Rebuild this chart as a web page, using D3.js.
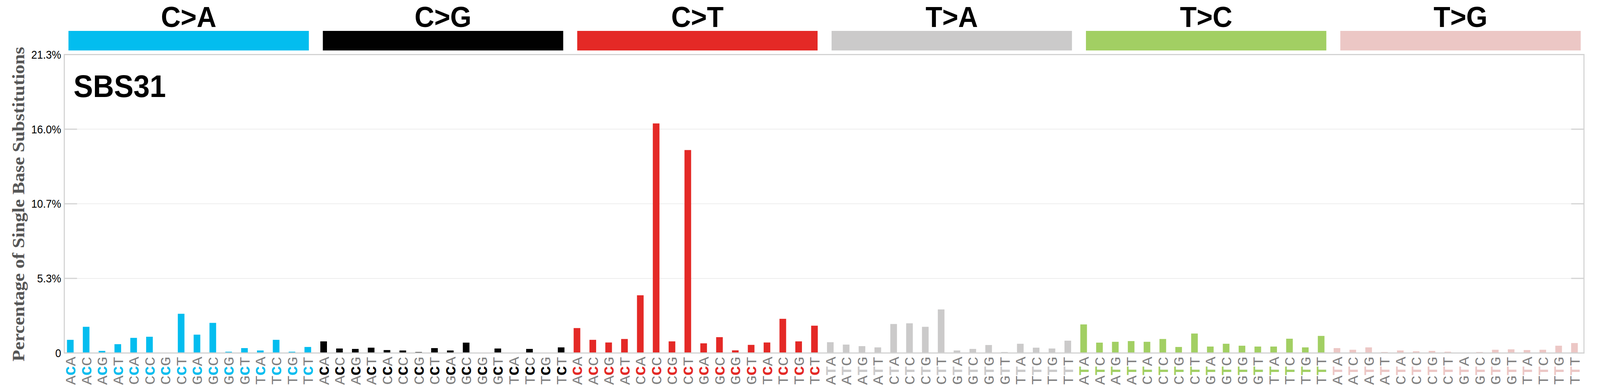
<!DOCTYPE html>
<html>
<head>
<meta charset="utf-8">
<script src="https://cdn.jsdelivr.net/npm/d3@7"></script>
<style>
  html, body { margin: 0; padding: 0; background: #fff; overflow: hidden; }
  #chart svg { display: block; }
</style>
</head>
<body>
<div id="chart"></div>
<script>
// mutation classes and their colours
const mutationTypes = ['C>A', 'C>G', 'C>T', 'T>A', 'T>C', 'T>G']
const typeColors = ['#03BDEF', '#010101', '#E42926', '#CBCACA', '#A2CF63', '#ECC7C5']

// trinucleotide contexts (5' base, mutated base, 3' base)
const contextsC = ['ACA', 'ACC', 'ACG', 'ACT', 'CCA', 'CCC', 'CCG', 'CCT',
  'GCA', 'GCC', 'GCG', 'GCT', 'TCA', 'TCC', 'TCG', 'TCT']
const contextsT = ['ATA', 'ATC', 'ATG', 'ATT', 'CTA', 'CTC', 'CTG', 'CTT',
  'GTA', 'GTC', 'GTG', 'GTT', 'TTA', 'TTC', 'TTG', 'TTT']

// percentage of single base substitutions
const caValues = [0.94, 1.87, 0.15, 0.63, 1.08, 1.16, 0.02, 2.80, 1.31, 2.15, 0.09, 0.35, 0.18, 0.94, 0.09, 0.43]
const cgValues = [0.83, 0.32, 0.29, 0.38, 0.21, 0.18, 0.07, 0.35, 0.18, 0.74, 0.04, 0.32, 0.04, 0.29, 0.04, 0.40]
const ctValues = [1.78, 0.94, 0.75, 1.00, 4.12, 16.39, 0.83, 14.49, 0.69, 1.13, 0.19, 0.58, 0.75, 2.44, 0.83, 1.95]
const taValues = [0.77, 0.60, 0.49, 0.40, 2.07, 2.12, 1.87, 3.11, 0.18, 0.29, 0.57, 0.07, 0.66, 0.38, 0.32, 0.88]
const tcValues = [2.04, 0.74, 0.80, 0.85, 0.80, 1.00, 0.43, 1.39, 0.46, 0.66, 0.52, 0.46, 0.46, 1.02, 0.40, 1.22]
const tgValues = [0.35, 0.23, 0.40, 0.07, 0.18, 0.12, 0.15, 0.09, 0.02, 0.07, 0.23, 0.26, 0.21, 0.23, 0.52, 0.71]

const signatureName = 'SBS31'
const yTitle = 'Percentage of Single Base Substitutions'

let seriesValues = [caValues, cgValues, ctValues, taValues, tcValues, tgValues]

// flatten to 96 rows
let rows = []
seriesValues.forEach((vals, g) => {
  let ctx = g < 3 ? contextsC : contextsT
  vals.forEach((v, i) => {
    rows.push({ type: mutationTypes[g], group: g, context: ctx[i], value: v })
  })
})

let width = 4393
let height = 992

let plot = { left: 176.5, right: 4349, top: 139.5, bottom: 902.5 }

// drawn in a 4393x992 coordinate box, stretched to whatever the window is
let svg = d3
  .select('#chart')
  .append('svg')
  .attr('viewBox', `0 0 ${width} ${height}`)
  .attr('preserveAspectRatio', 'none')
  .style('width', '100vw')
  .style('height', '100vh')

let x = d3
  .scaleLinear()
  .domain([-0.38, 95.6])
  .range([plot.left, plot.right])

let step = x(1) - x(0)
let barWidth = step * 0.42

let yMax = d3.max(rows, d => d.value) * 1.3

let y = d3
  .scaleLinear()
  .domain([0, yMax])
  .range([plot.bottom, plot.top])

let yTicks = [0, 0.25, 0.5, 0.75, 1].map(f => f * yMax)

// gridlines
svg
  .selectAll('.grid')
  .data(yTicks.slice(1, 4))
  .enter()
  .append('line')
  .attr('class', 'grid')
  .attr('x1', plot.left)
  .attr('x2', plot.right)
  .attr('y1', d => y(d))
  .attr('y2', d => y(d))
  .attr('stroke', '#e8e8e8')
  .attr('stroke-width', 1.5)

// bars
svg
  .selectAll('.bar')
  .data(rows)
  .enter()
  .append('rect')
  .attr('class', 'bar')
  .attr('x', (d, i) => x(i) - barWidth / 2)
  .attr('width', barWidth)
  .attr('y', d => y(d.value))
  .attr('height', d => y(0) - y(d.value))
  .attr('fill', d => typeColors[d.group])

// frame
svg
  .append('rect')
  .attr('x', plot.left)
  .attr('y', plot.top)
  .attr('width', plot.right - plot.left)
  .attr('height', plot.bottom - plot.top)
  .attr('fill', 'none')
  .attr('stroke', '#d3d3d3')
  .attr('stroke-width', 3)

// inward ticks on both sides
svg
  .selectAll('.tick-left')
  .data(yTicks)
  .enter()
  .append('line')
  .attr('class', 'tick-left')
  .attr('x1', plot.left)
  .attr('x2', plot.left + 35)
  .attr('y1', d => y(d))
  .attr('y2', d => y(d))
  .attr('stroke', '#d3d3d3')
  .attr('stroke-width', 3)

svg
  .selectAll('.tick-right')
  .data(yTicks)
  .enter()
  .append('line')
  .attr('class', 'tick-right')
  .attr('x1', plot.right - 35)
  .attr('x2', plot.right)
  .attr('y1', d => y(d))
  .attr('y2', d => y(d))
  .attr('stroke', '#d3d3d3')
  .attr('stroke-width', 3)

svg
  .selectAll('.tick-label')
  .data(yTicks)
  .enter()
  .append('text')
  .attr('class', 'tick-label')
  .attr('x', 168)
  .attr('y', d => y(d))
  .attr('dy', '0.36em')
  .attr('text-anchor', 'end')
  .style('font-family', '"Liberation Sans", Arial, sans-serif')
  .style('font-size', '29px')
  .attr('fill', '#000')
  .text(d => (d === 0 ? '0' : d.toFixed(1) + '%'))

// y axis title
svg
  .append('text')
  .attr('transform', 'translate(67,522) rotate(-90)')
  .attr('text-anchor', 'middle')
  .style('font-family', '"Liberation Serif", "Times New Roman", serif')
  .style('font-weight', 'bold')
  .style('font-size', '48px')
  .attr('fill', '#565656')
  .text(yTitle)

// signature name
svg
  .append('text')
  .attr('x', 202)
  .attr('y', 248)
  .style('font-family', '"Liberation Sans", Arial, sans-serif')
  .style('font-weight', 'bold')
  .style('font-size', '80px')
  .text(signatureName)

// header boxes
let header = d3
  .scaleBand()
  .domain(mutationTypes)
  .range([188, 4340])
  .paddingInner(0.055)

svg
  .selectAll('.head-box')
  .data(mutationTypes)
  .enter()
  .append('rect')
  .attr('class', 'head-box')
  .attr('x', d => header(d))
  .attr('y', 79)
  .attr('width', header.bandwidth())
  .attr('height', 50)
  .attr('fill', (d, i) => typeColors[i])

svg
  .selectAll('.head-label')
  .data(mutationTypes)
  .enter()
  .append('text')
  .attr('class', 'head-label')
  .attr('x', d => header(d) + header.bandwidth() / 2)
  .attr('y', 69)
  .attr('text-anchor', 'middle')
  .style('font-family', '"Liberation Sans", Arial, sans-serif')
  .style('font-weight', 'bold')
  .style('font-size', '75px')
  .text(d => d)

// x labels, rotated, read bottom to top
svg
  .selectAll('.ctx')
  .data(rows)
  .enter()
  .append('text')
  .attr('class', 'ctx')
  .attr('transform', (d, i) => `translate(${x(i)},984) rotate(-90)`)
  .attr('dy', '0.35em')
  .style('font-family', '"Liberation Mono", "Courier New", monospace')
  .style('font-size', '40px')
  .each(function(d) {
    let t = d3.select(this)
    t.append('tspan').attr('fill', '#808080').text(d.context[0])
    t.append('tspan')
      .attr('fill', typeColors[d.group])
      .style('font-weight', 'bold')
      .text(d.context[1])
    t.append('tspan').attr('fill', '#808080').text(d.context[2])
  })
</script>
</body>
</html>
